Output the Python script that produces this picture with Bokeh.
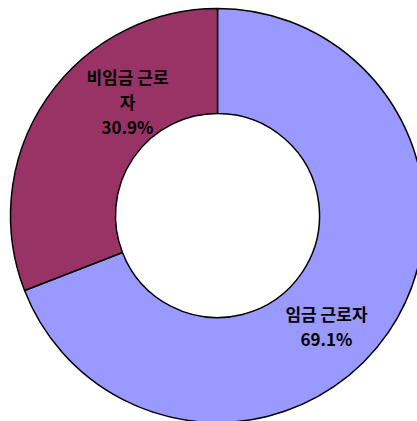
import math
from bokeh.plotting import figure
from bokeh.models import ColumnDataSource
from bokeh.core.properties import value
from bokeh.embed import file_html
from bokeh.resources import INLINE

# ---- data ----
categories = ["임금 근로자", "비임금 근로자"]
shares = [69.1, 30.9]
label_texts = ["임금 근로자\n69.1%", "비임금 근로\n자\n30.9%"]
colors = ["#9999FF", "#993366"]

# ---- layout ----
W, H = 417, 421
cx, cy = 217, H - 215
r_out, r_in = 207, 102
label_pos = [(326, H - 325), (127, H - 101)]

total = sum(shares)
starts, ends = [], []
a = math.pi / 2
for s in shares:
    starts.append(a)
    a -= s / total * 2 * math.pi
    ends.append(a)

src = ColumnDataSource(dict(cat=categories, start=starts, end=ends, color=colors))

p = figure(width=W, height=H, x_range=(0, W), y_range=(0, H),
           output_backend="svg", toolbar_location=None, min_border=0)
p.axis.visible = False
p.grid.visible = False
p.outline_line_color = None
p.background_fill_color = "white"

p.annular_wedge(x=cx, y=cy, inner_radius=r_in, outer_radius=r_out,
                start_angle="start", end_angle="end", direction="clock",
                fill_color="color", line_color="black", line_width=1.5, source=src)

lsrc = ColumnDataSource(dict(x=[q[0] for q in label_pos], y=[q[1] for q in label_pos],
                             t=label_texts))
p.text(x="x", y="y", text="t", source=lsrc, text_align="center", text_baseline="middle",
       text_font=value("Noto Sans CJK KR"), text_font_style="bold", text_font_size="17px",
       text_line_height=1.0, text_color="black")

open("out.html", "w").write(file_html(p, INLINE))
